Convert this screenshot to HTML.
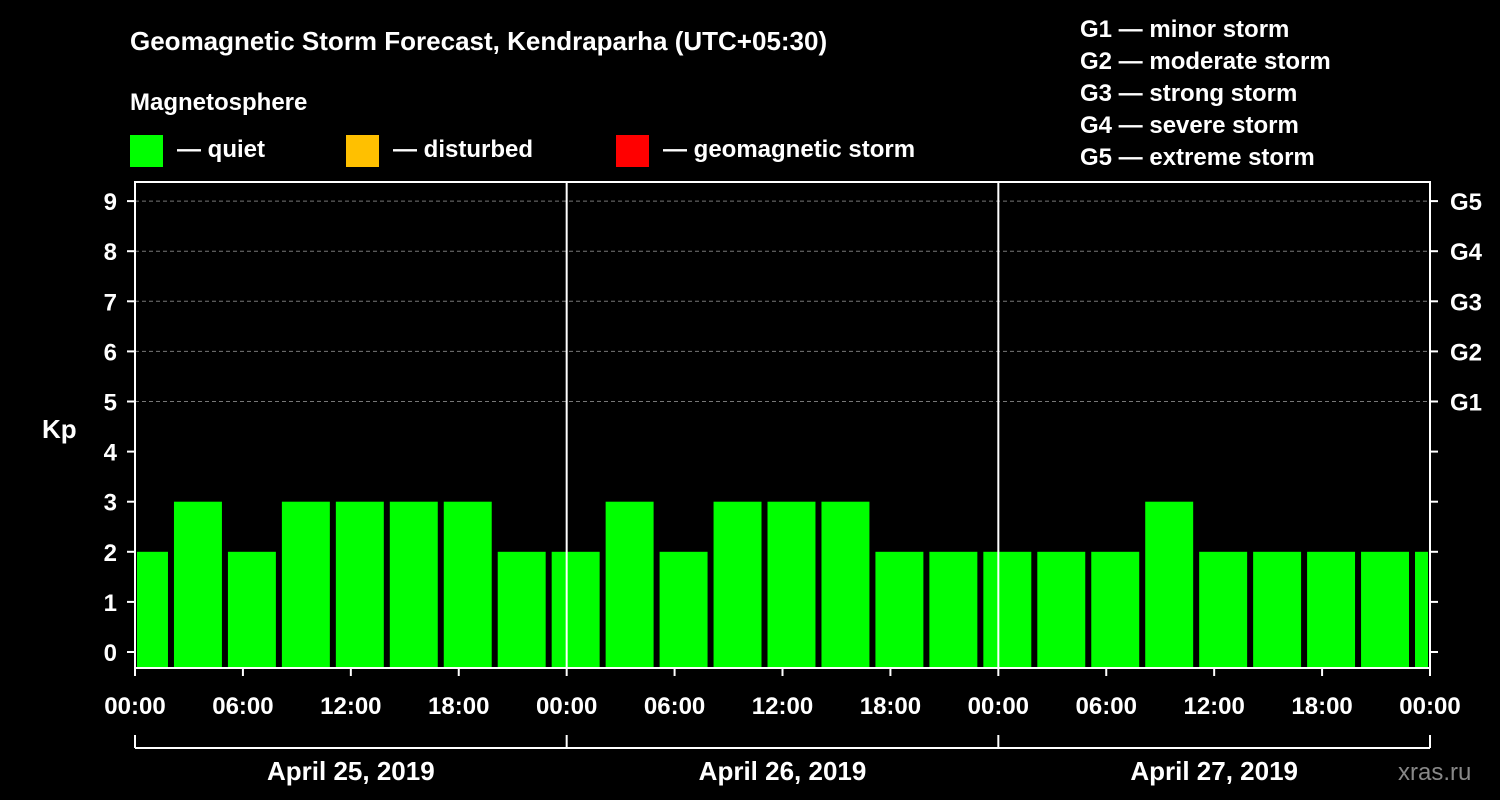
<!DOCTYPE html>
<html><head><meta charset="utf-8"><style>
html,body{margin:0;padding:0;background:#000;}
svg{display:block;font-family:"Liberation Sans",Arial,sans-serif;font-weight:bold;}
</style></head><body>
<svg id="chart" width="1500" height="800" viewBox="0 0 1500 800">
<rect x="0" y="0" width="1500" height="800" fill="#000"/>
<text x="130" y="50" fill="#fff" font-size="26">Geomagnetic Storm Forecast, Kendraparha (UTC+05:30)</text>
<text x="130" y="110" fill="#fff" font-size="24">Magnetosphere</text>
<rect x="130" y="135" width="33" height="32" fill="#00ff00"/>
<text x="177" y="157" fill="#fff" font-size="24">— quiet</text>
<rect x="346" y="135" width="33" height="32" fill="#ffc000"/>
<text x="393" y="157" fill="#fff" font-size="24">— disturbed</text>
<rect x="616" y="135" width="33" height="32" fill="#ff0000"/>
<text x="663" y="157" fill="#fff" font-size="24">— geomagnetic storm</text>
<g fill="#fff" font-size="24">
<text x="1080" y="37">G1 — minor storm</text>
<text x="1080" y="69">G2 — moderate storm</text>
<text x="1080" y="101">G3 — strong storm</text>
<text x="1080" y="133">G4 — severe storm</text>
<text x="1080" y="165">G5 — extreme storm</text>
</g>
<text x="42" y="438" fill="#fff" font-size="26">Kp</text>
<text x="1398" y="780" fill="#888" font-size="24" font-weight="normal">xras.ru</text>
<g id="plot"></g>
</svg>
<script>
const kpValues=[2,3,2,3,3,3,3,2,2,3,2,3,3,3,2,2,2,2,2,3,2,2,2,2,2];
const yTicks=[0,1,2,3,4,5,6,7,8,9];
const gLabels=["G1","G2","G3","G4","G5"];
const timeLabels=["00:00","06:00","12:00","18:00","00:00","06:00","12:00","18:00","00:00","06:00","12:00","18:00","00:00"];
const dayLabels=["April 25, 2019","April 26, 2019","April 27, 2019"];
const NS="http://www.w3.org/2000/svg";
const g=document.getElementById('plot');
const X0=135,X1=1430,YT=182,YB=668;
const hx=h=>X0+h*(X1-X0)/72;
const ky=v=>652-v*50.1;
function mk(t,a){const e=document.createElementNS(NS,t);for(const k in a)e.setAttribute(k,a[k]);g.appendChild(e);return e;}
// grid
for(let v=5;v<=9;v++){const l=mk('line',{x1:X0,x2:X1,y1:ky(v),y2:ky(v),stroke:'#777','stroke-dasharray':'4,3','stroke-width':1});

}
// bars
kpValues.forEach((v,i)=>{const s=hx(i*3-5/6),e=s+hx(3)-hx(0)-6;const a=Math.max(s,X0+2),b=Math.min(e,X1-2);
const r=mk('rect',{x:a,y:ky(v),width:b-a,height:YB-ky(v),fill:v>=5?'#ff0000':(v>=4?'#ffc000':'#00ff00')});

});
// day separators
[24,48].forEach(h=>{const l=mk('line',{x1:hx(h),x2:hx(h),y1:YT,y2:YB,stroke:'#fff','stroke-width':2});

});
// frame
const f=mk('rect',{x:X0,y:YT,width:X1-X0,height:YB-YT,fill:'none',stroke:'#fff','stroke-width':2});


// y ticks
yTicks.forEach(v=>{const y=ky(v);
mk('line',{x1:X0-8,x2:X0,y1:y,y2:y,stroke:'#fff','stroke-width':2});
mk('line',{x1:X1,x2:X1+8,y1:y,y2:y,stroke:'#fff','stroke-width':2});
const t=mk('text',{x:117,y:y+9,fill:'#fff','font-size':24,'text-anchor':'end'});t.textContent=v;

});
gLabels.forEach((s,i)=>{const t=mk('text',{x:1450,y:ky(i+5)+9,fill:'#fff','font-size':24});t.textContent=s;

});
// x ticks
timeLabels.forEach((s,i)=>{const x=hx(i*6);
mk('line',{x1:x,x2:x,y1:YB,y2:YB+8,stroke:'#fff','stroke-width':2});
const t=mk('text',{x:x,y:714,fill:'#fff','font-size':24,'text-anchor':'middle'});t.textContent=s;

});
// day brackets
mk('line',{x1:X0,x2:X1,y1:748,y2:748,stroke:'#fff','stroke-width':2});
[0,24,48,72].forEach(h=>mk('line',{x1:hx(h),x2:hx(h),y1:735,y2:748,stroke:'#fff','stroke-width':2}));
dayLabels.forEach((s,i)=>{const t=mk('text',{x:hx(i*24+12),y:780,fill:'#fff','font-size':26,'text-anchor':'middle'});t.textContent=s;

});
</script>
</body></html>
